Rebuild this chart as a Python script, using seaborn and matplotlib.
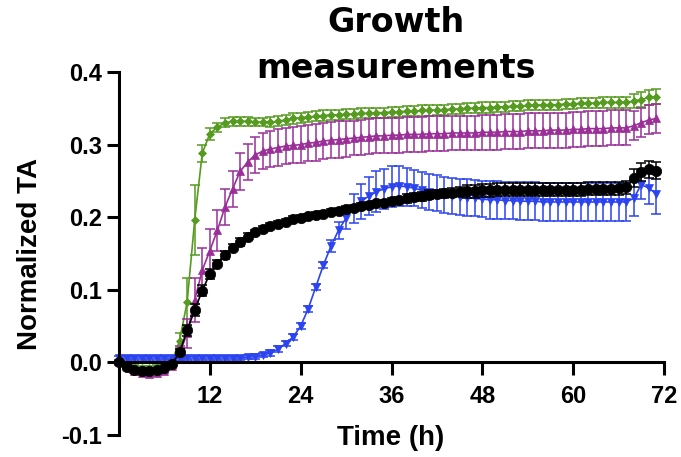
import numpy as np
import pandas as pd
import matplotlib
matplotlib.use("Agg")
import matplotlib.pyplot as plt
import seaborn as sns

# ---------------- data ----------------
time_h = list(range(72))

black_vals = [0.000, -0.006, -0.010, -0.012, -0.012, -0.011, -0.008, -0.002, 0.014, 0.044,
              0.072, 0.099, 0.122, 0.136, 0.148, 0.158, 0.166, 0.173, 0.179, 0.184,
              0.188, 0.191, 0.194, 0.197, 0.199, 0.201, 0.203, 0.205, 0.207, 0.209,
              0.211, 0.213, 0.215, 0.217, 0.219, 0.220, 0.222, 0.224, 0.226, 0.228,
              0.229, 0.231, 0.232, 0.233, 0.234, 0.235, 0.236, 0.236, 0.237, 0.237,
              0.238, 0.238, 0.238, 0.238, 0.238, 0.238, 0.238, 0.238, 0.238, 0.238,
              0.238, 0.238, 0.239, 0.239, 0.239, 0.239, 0.240, 0.241, 0.254, 0.262,
              0.266, 0.264]
black_err = [0.002] * 8 + [0.004, 0.007, 0.008, 0.008, 0.007, 0.005, 0.005, 0.005, 0.005, 0.005] + \
            [0.004] * 20 + [0.006] * 8 + [0.009] * 22 + [0.012, 0.012, 0.012, 0.012]

green_vals = [0.000, -0.004, -0.007, -0.008, -0.008, -0.007, -0.005, 0.001, 0.030, 0.083,
              0.196, 0.288, 0.315, 0.324, 0.330, 0.332, 0.332, 0.332, 0.331, 0.331,
              0.331, 0.332, 0.334, 0.336, 0.337, 0.338, 0.339, 0.340, 0.341, 0.341,
              0.342, 0.342, 0.343, 0.343, 0.344, 0.344, 0.345, 0.345, 0.346, 0.346,
              0.347, 0.347, 0.348, 0.348, 0.349, 0.349, 0.350, 0.350, 0.351, 0.351,
              0.352, 0.352, 0.353, 0.353, 0.354, 0.354, 0.355, 0.355, 0.355, 0.356,
              0.356, 0.357, 0.357, 0.357, 0.358, 0.358, 0.358, 0.358, 0.360, 0.362,
              0.365, 0.366]
green_err = [0.003] * 8 + [0.010, 0.033, 0.048, 0.012, 0.008] + [0.006] * 7 + \
            [0.007] * 48 + [0.010, 0.010, 0.010, 0.010]

magenta_vals = [0.000, -0.007, -0.012, -0.015, -0.016, -0.015, -0.012, -0.005, 0.012, 0.040,
                0.086, 0.127, 0.154, 0.182, 0.214, 0.239, 0.263, 0.276, 0.286, 0.291,
                0.294, 0.296, 0.298, 0.299, 0.300, 0.302, 0.303, 0.305, 0.306, 0.307,
                0.308, 0.309, 0.310, 0.311, 0.312, 0.312, 0.313, 0.313, 0.314, 0.314,
                0.314, 0.315, 0.315, 0.315, 0.316, 0.316, 0.316, 0.316, 0.317, 0.317,
                0.317, 0.318, 0.318, 0.318, 0.319, 0.319, 0.319, 0.320, 0.320, 0.320,
                0.321, 0.321, 0.322, 0.322, 0.322, 0.323, 0.323, 0.323, 0.326, 0.330,
                0.334, 0.336]
magenta_err = [0.003] * 8 + [0.010, 0.020, 0.030, 0.030, 0.030, 0.028, 0.025, 0.025, 0.025] + \
              [0.025] * 14 + [0.024] * 37 + [0.020, 0.020, 0.020, 0.020]

blue_vals = [0.006] * 17 + [0.007, 0.008, 0.010,
             0.013, 0.018, 0.026, 0.035, 0.050, 0.074, 0.104, 0.134, 0.160, 0.182,
             0.199, 0.212, 0.222, 0.229, 0.235, 0.239, 0.242, 0.243, 0.242, 0.240,
             0.237, 0.235, 0.233, 0.231, 0.229, 0.228, 0.227, 0.226, 0.225, 0.224,
             0.224, 0.223, 0.223, 0.222, 0.222, 0.222, 0.221, 0.221, 0.221, 0.221,
             0.221, 0.221, 0.221, 0.221, 0.221, 0.221, 0.221, 0.221, 0.226, 0.245,
             0.240, 0.232]
blue_err = [0.003] * 20 + [0.004] * 8 + [0.008, 0.012, 0.015, 0.020, 0.024, 0.026, 0.028,
            0.028, 0.028, 0.027, 0.026] + [0.025] * 10 + [0.026] * 19 + [0.025, 0.020, 0.022, 0.028]

series_names = ["green", "magenta", "blue", "black"]
series_vals = [green_vals, magenta_vals, blue_vals, black_vals]
series_errs = [green_err, magenta_err, blue_err, black_err]
series_colors = ["#559b1f", "#9a2f98", "#2b44f0", "#000000"]
series_markers = ["D", "^", "v", "o"]
series_msize = [4.5, 6.0, 6.0, 7.5]

x_ticks = [12, 24, 36, 48, 60, 72]
y_ticks = [-0.1, 0.0, 0.1, 0.2, 0.3, 0.4]
y_ticklabels = ["-0.1", "0.0", "0.1", "0.2", "0.3", "0.4"]

# ---------------- plot ----------------
sns.set_theme(style="ticks")
plt.rcParams["font.family"] = ["Liberation Sans", "DejaVu Sans"]
plt.rcParams["text.color"] = "black"

fig = plt.figure(figsize=(6.81, 4.57), dpi=100)
ax = fig.add_axes([119 / 681, 22 / 457, 545 / 681, 363 / 457])

for name, vals, errs, col, mk, ms in zip(series_names, series_vals, series_errs,
                                         series_colors, series_markers, series_msize):
    df = pd.DataFrame({"t": time_h, "v": vals, "e": errs})
    ax.errorbar(df["t"], df["v"], yerr=df["e"], fmt="none", ecolor=col,
                elinewidth=1.1, capsize=3.5, capthick=1.1, clip_on=False)
    sns.lineplot(data=df, x="t", y="v", color=col, marker=mk, markersize=ms,
                 markeredgecolor=col, markeredgewidth=0.5, linewidth=1.2,
                 ax=ax, clip_on=False)

ax.set_xlim(0, 72)
ax.set_ylim(-0.1, 0.4)
ax.set_xticks(x_ticks)
ax.set_xticklabels([str(v) for v in x_ticks])
ax.set_yticks(y_ticks)
ax.set_yticklabels(y_ticklabels)

for s in ["top", "right"]:
    ax.spines[s].set_visible(False)
ax.spines["bottom"].set_position(("data", 0))
for s in ["left", "bottom"]:
    ax.spines[s].set_linewidth(2.2)
    ax.spines[s].set_color("black")

ax.tick_params(axis="both", length=9, width=2.2, color="black",
               labelsize=17, labelcolor="black")
ax.tick_params(axis="x", pad=7)
ax.tick_params(axis="y", pad=3)
for lab in ax.get_xticklabels() + ax.get_yticklabels():
    lab.set_fontweight("bold")

ax.set_xlabel("")
ax.set_ylabel("")
fig.text(391 / 681, 1 - 438 / 457, "Time (h)", ha="center", va="center",
         fontsize=20, fontweight="bold", color="black")
fig.text(30 / 681, 1 - 254 / 457, "Normalized TA", ha="center", va="center",
         rotation=90, fontsize=20, fontweight="bold", color="black")
fig.text(396 / 681, 1 - 6 / 457, "Growth\nmeasurements", ha="center", va="top",
         fontsize=24, fontweight="bold", family="DejaVu Sans", linespacing=1.5,
         color="black")

fig.savefig("out.png", dpi=100)
